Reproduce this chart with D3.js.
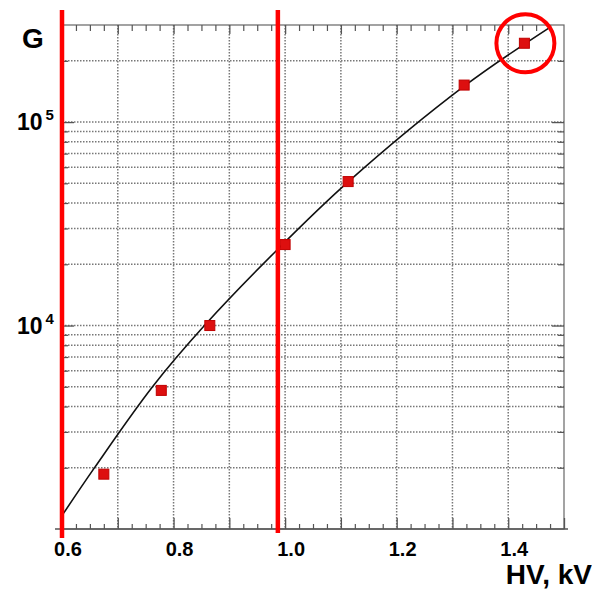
<!DOCTYPE html>
<html>
<head>
<meta charset="utf-8">
<script src="https://cdn.jsdelivr.net/npm/d3@7"></script>
<style>
  html, body { margin: 0; padding: 0; background: #fff; }
  text { font-family: "Liberation Sans", Arial, sans-serif; font-weight: bold; }
</style>
</head>
<body>
<div id="chart"></div>
<script>
// measured gain points (HV in kV, gain G)
const hv = [0.675, 0.778, 0.865, 1.0, 1.113, 1.321, 1.429];
const gain = [1860, 4800, 10000, 25000, 51000, 152000, 244000];

// fit curve
const fitHv = [0.602, 0.659, 0.763, 0.857, 0.986, 1.113, 1.321, 1.472];
const fitGain = [1186, 2014, 5030, 10110, 23590, 50800, 150100, 289000];

// annotations: red vertical marks and circled point
const markHv = [0.6, 0.987];
const circledIndex = 6;

const xTickLabels = [0.6, 0.8, 1.0, 1.2, 1.4];
const yTickLabels = [1e4, 1e5];

const W = 592, H = 590;
const margin = { left: 62, top: 25, right: 28, bottom: 61 };
const innerW = W - margin.left - margin.right;
const innerH = H - margin.top - margin.bottom;

const svg = d3.select("#chart")
  .append("svg")
  .attr("width", W)
  .attr("height", H);

const g = svg.append("g")
  .attr("transform", `translate(${margin.left},${margin.top})`);

const x = d3.scaleLinear().domain([0.6, 1.5]).range([0, innerW]);
const y = d3.scaleLog().domain([1000, 300000]).range([innerH, 0]);

// grid values
const xGrid = d3.range(7, 15).map(d => d / 10);
const yGrid = [];
[1e3, 1e4, 1e5].forEach(dec => {
  for (let k = 1; k < 10; k++) {
    const v = dec * k;
    if (v > 1000 && v < 300000) yGrid.push(v);
  }
});
const xMinor = d3.range(24, 61).map(d => d / 40).filter(d => d % 0.1 > 1e-6 && 0.1 - (d % 0.1) > 1e-6);

// dotted grid
g.append("g").selectAll("line")
  .data(xGrid).enter().append("line")
  .attr("x1", d => x(d)).attr("x2", d => x(d))
  .attr("y1", 0).attr("y2", innerH)
  .attr("stroke", "#777").attr("stroke-width", 1.5)
  .attr("stroke-dasharray", "1.5,1.5");

g.append("g").selectAll("line")
  .data(yGrid).enter().append("line")
  .attr("x1", 0).attr("x2", innerW)
  .attr("y1", d => y(d)).attr("y2", d => y(d))
  .attr("stroke", "#777").attr("stroke-width", 1.5)
  .attr("stroke-dasharray", "1.5,1.5");

// frame
g.append("rect")
  .attr("width", innerW).attr("height", innerH)
  .attr("fill", "none").attr("stroke", "#666").attr("stroke-width", 1.2);

// bottom axis with inward ticks
const xAxis = d3.axisBottom(x)
  .tickValues(xGrid.concat([0.6, 1.5]))
  .tickSizeInner(-11).tickSizeOuter(0)
  .tickFormat("");
const xAxisG = g.append("g")
  .attr("transform", `translate(0,${innerH})`)
  .call(xAxis);
xAxisG.select(".domain").attr("stroke", "#555").attr("stroke-width", 1.5)
  .attr("d", `M-7,0H${innerW + 4}`);
xAxisG.selectAll(".tick line").attr("stroke", "#555").attr("stroke-width", 1.3);

g.append("g")
  .attr("transform", `translate(0,${innerH})`)
  .call(d3.axisBottom(x).tickValues(xMinor).tickSize(-5).tickFormat(""))
  .call(s => s.select(".domain").remove())
  .selectAll(".tick line").attr("stroke", "#555").attr("stroke-width", 1.2);

// top axis ticks
g.append("g")
  .call(d3.axisTop(x).tickValues(xGrid).tickSize(-9).tickFormat(""))
  .call(s => s.select(".domain").remove())
  .selectAll(".tick line").attr("stroke", "#555").attr("stroke-width", 1.3);
g.append("g")
  .call(d3.axisTop(x).tickValues(xMinor).tickSize(-6).tickFormat(""))
  .call(s => s.select(".domain").remove())
  .selectAll(".tick line").attr("stroke", "#555").attr("stroke-width", 1.2);

// left / right axis ticks
[[d3.axisLeft, 0], [d3.axisRight, innerW]].forEach(([ax, tx]) => {
  g.append("g")
    .attr("transform", `translate(${tx},0)`)
    .call(ax(y).tickValues(yTickLabels).tickSize(-12).tickFormat(""))
    .call(s => s.select(".domain").remove())
    .selectAll(".tick line").attr("stroke", "#555").attr("stroke-width", 1.3);
  g.append("g")
    .attr("transform", `translate(${tx},0)`)
    .call(ax(y).tickValues(yGrid.filter(v => !yTickLabels.includes(v))).tickSize(-6).tickFormat(""))
    .call(s => s.select(".domain").remove())
    .selectAll(".tick line").attr("stroke", "#555").attr("stroke-width", 1.2);
});

// x tick labels
g.append("g").selectAll("text")
  .data(xTickLabels).enter().append("text")
  .attr("x", d => x(d) + 6)
  .attr("y", innerH + 27)
  .attr("text-anchor", "middle")
  .attr("font-size", 20)
  .attr("fill", "#000")
  .text(d => d3.format(".1f")(d));

// y tick labels 10^n
const yl = g.append("g").selectAll("text")
  .data(yTickLabels).enter().append("text")
  .attr("x", -45)
  .attr("y", d => y(d) + 8)
  .attr("font-size", 23)
  .attr("fill", "#000");
yl.append("tspan").text("10");
yl.append("tspan").attr("dx", 3).attr("dy", -10).attr("font-size", 15)
  .text(d => Math.round(Math.log10(d)));

// axis titles
svg.append("text")
  .attr("x", 22).attr("y", 48)
  .attr("font-size", 28).attr("fill", "#000")
  .text("G");
svg.append("text")
  .attr("x", 592).attr("y", 584)
  .attr("text-anchor", "end")
  .attr("font-size", 28).attr("fill", "#000")
  .text("HV, kV");

// fit curve
const line = d3.line()
  .x((d, i) => x(fitHv[i]))
  .y(d => y(d))
  .curve(d3.curveCatmullRom.alpha(0.5));
g.append("path")
  .datum(fitGain)
  .attr("d", line)
  .attr("fill", "none")
  .attr("stroke", "#111")
  .attr("stroke-width", 1.6);

// data points
g.append("g").selectAll("rect")
  .data(gain).enter().append("rect")
  .attr("x", (d, i) => x(hv[i]) - 5)
  .attr("y", d => y(d) - 5)
  .attr("width", 10).attr("height", 10)
  .attr("fill", "#dd0f0f")
  .attr("stroke", "#c00000").attr("stroke-width", 1);

// red annotation lines
g.append("g").selectAll("line")
  .data(markHv).enter().append("line")
  .attr("x1", d => x(d)).attr("x2", d => x(d))
  .attr("y1", -15)
  .attr("y2", (d, i) => i === 0 ? innerH + 9 : innerH + 4)
  .attr("stroke", "#ff0000")
  .attr("stroke-width", 4.5);

// circle around last point
g.append("circle")
  .attr("cx", x(hv[circledIndex]) + 1)
  .attr("cy", y(gain[circledIndex]))
  .attr("r", 29)
  .attr("fill", "none")
  .attr("stroke", "#ff0000")
  .attr("stroke-width", 4);
</script>
</body>
</html>
